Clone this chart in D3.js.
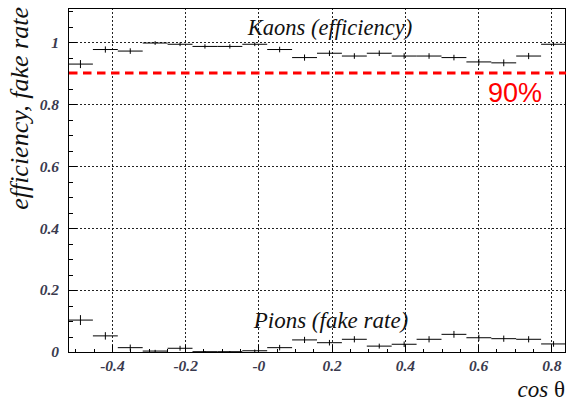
<!DOCTYPE html>
<html>
<head>
<meta charset="utf-8">
<script src="https://cdn.jsdelivr.net/npm/d3@7"></script>
<style>
  html, body { margin: 0; padding: 0; background: #fff; }
  svg { display: block; }
</style>
</head>
<body>
<svg id="chart" width="567" height="403"></svg>
<script>
// ---- data ----
const binCenters = [-0.486, -0.418, -0.35, -0.282, -0.214, -0.146, -0.078, -0.01, 0.058, 0.126,
                    0.194, 0.262, 0.33, 0.398, 0.466, 0.534, 0.602, 0.67, 0.738, 0.806];
const binHalfWidth = 0.034;
const kaonEff = [0.929, 0.976, 0.971, 0.997, 0.993, 0.986, 0.986, 0.993, 0.976, 0.950,
                 0.964, 0.955, 0.964, 0.955, 0.955, 0.950, 0.936, 0.933, 0.955, 0.993];
const kaonErr = [0.013, 0.010, 0.009, 0.006, 0.006, 0.007, 0.007, 0.006, 0.009, 0.010,
                 0.009, 0.009, 0.009, 0.009, 0.009, 0.009, 0.010, 0.011, 0.010, 0.006];
const pionFake = [0.103, 0.052, 0.014, 0.003, 0.012, 0.001, 0.001, 0.004, 0.014, 0.039,
                  0.030, 0.041, 0.019, 0.025, 0.041, 0.057, 0.046, 0.043, 0.041, 0.026];
const pionErr = [0.016, 0.012, 0.010, 0.004, 0.008, 0.002, 0.002, 0.004, 0.009, 0.010,
                 0.009, 0.010, 0.008, 0.009, 0.010, 0.011, 0.010, 0.010, 0.010, 0.009];
const xTickValues = [-0.4, -0.2, 0, 0.2, 0.4, 0.6, 0.8];
const xTickLabels = ["-0.4", "-0.2", "-0", "0.2", "0.4", "0.6", "0.8"];
const yTickValues = [0, 0.2, 0.4, 0.6, 0.8, 1];
const yTickLabels = ["0", "0.2", "0.4", "0.6", "0.8", "1"];
const threshold = 0.9;
const thresholdLabel = "90%";

// ---- layout ----
const svg = d3.select("#chart");
const L = 68, R = 566, T = 8, B = 352;
const x = d3.scaleLinear().domain([-0.52, 0.84]).range([L, R]);
const y = d3.scaleLinear().domain([0, 1.11]).range([B, T]);

const serif = "'Liberation Serif', 'DejaVu Serif', serif";

// gridlines
const grid = svg.append("g").attr("stroke", "#222").attr("stroke-width", 1)
  .attr("stroke-dasharray", "2,2").attr("shape-rendering", "crispEdges");
grid.selectAll("line.v").data(xTickValues).join("line")
  .attr("x1", d => Math.round(x(d)) + 0.5).attr("x2", d => Math.round(x(d)) + 0.5)
  .attr("y1", T).attr("y2", B);
grid.selectAll("line.h").data(yTickValues.filter(d => d > 0)).join("line")
  .attr("x1", L).attr("x2", R)
  .attr("y1", d => Math.round(y(d)) + 0.5).attr("y2", d => Math.round(y(d)) + 0.5);

// minor/major ticks (inward)
const xMinor = d3.range(-50, 85, 5).map(v => v / 100);
const yMinor = d3.range(0, 111, 5).map(v => v / 100);
const ticks = svg.append("g").attr("stroke", "#000").attr("stroke-width", 1).attr("shape-rendering", "crispEdges");
ticks.selectAll("line.xt").data(xMinor).join("line")
  .attr("x1", d => Math.round(x(d)) + 0.5).attr("x2", d => Math.round(x(d)) + 0.5)
  .attr("y1", B).attr("y2", d => B - (Math.abs(Math.round(d * 100)) % 20 === 0 ? 7 : 3.5));
ticks.selectAll("line.yt").data(yMinor).join("line")
  .attr("y1", d => Math.round(y(d)) + 0.5).attr("y2", d => Math.round(y(d)) + 0.5)
  .attr("x1", L).attr("x2", d => L + (Math.round(d * 100) % 20 === 0 ? 9 : 4.5));

// frame
svg.append("rect").attr("x", L + 0.5).attr("y", T + 0.5).attr("width", R - L - 1).attr("height", B - T)
  .attr("fill", "none").attr("stroke", "#000").attr("stroke-width", 1).attr("shape-rendering", "crispEdges");

// axes labels via d3 axes (no domain / ticks lines)
const xAxis = d3.axisBottom(x).tickValues(xTickValues)
  .tickFormat((d, i) => xTickLabels[i]).tickSize(0).tickPadding(8);
const gx = svg.append("g").attr("transform", `translate(0,${B})`).call(xAxis);
gx.select(".domain").remove();
gx.selectAll("text").attr("font-family", serif).attr("font-style", "italic").attr("font-weight", "bold")
  .attr("font-size", 15.5).attr("fill", "#3a3a4e").attr("dy", "0.71em");

const yAxis = d3.axisLeft(y).tickValues(yTickValues)
  .tickFormat((d, i) => yTickLabels[i]).tickSize(0).tickPadding(9);
const gy = svg.append("g").attr("transform", `translate(${L},0)`).call(yAxis);
gy.select(".domain").remove();
gy.selectAll("text").attr("font-family", serif).attr("font-style", "italic").attr("font-weight", "bold")
  .attr("font-size", 15.5).attr("fill", "#3a3a4e");

// threshold line
svg.append("line").attr("x1", L + 1).attr("x2", R)
  .attr("y1", y(threshold)).attr("y2", y(threshold))
  .attr("stroke", "#ff0000").attr("stroke-width", 3).attr("stroke-dasharray", "8.5,5.5");
svg.append("text").attr("x", 488).attr("y", 102)
  .attr("font-family", "'Liberation Sans', Arial, sans-serif").attr("font-size", 27)
  .attr("fill", "#ff0000").text(thresholdLabel);

// data markers
function drawSeries(vals, errs) {
  const g = svg.append("g").attr("stroke", "#000").attr("stroke-width", 1);
  binCenters.forEach((c, i) => {
    const yy = y(vals[i]);
    g.append("line").attr("x1", x(c - binHalfWidth)).attr("x2", x(c + binHalfWidth))
      .attr("y1", yy).attr("y2", yy);
    g.append("line").attr("x1", x(c)).attr("x2", x(c))
      .attr("y1", y(vals[i] + errs[i])).attr("y2", y(Math.max(0, vals[i] - errs[i])));
  });
}
drawSeries(kaonEff, kaonErr);
drawSeries(pionFake, pionErr);

// labels
svg.append("text").attr("x", 330).attr("y", 35).attr("text-anchor", "middle")
  .attr("font-family", serif).attr("font-style", "italic").attr("font-size", 22.5).attr("fill", "#111")
  .text("Kaons (efficiency)");
svg.append("text").attr("x", 331).attr("y", 328).attr("text-anchor", "middle")
  .attr("font-family", serif).attr("font-style", "italic").attr("font-size", 23).attr("fill", "#111")
  .text("Pions (fake rate)");

// axis titles
svg.append("text").attr("transform", "translate(28,7) rotate(-90)").attr("text-anchor", "end")
  .attr("font-family", serif).attr("font-style", "italic").attr("font-size", 26).attr("fill", "#111")
  .text("efficiency, fake rate");
const xt = svg.append("text").attr("x", 565).attr("y", 397).attr("text-anchor", "end")
  .attr("font-family", serif).attr("font-size", 23).attr("fill", "#111");
xt.append("tspan").attr("font-style", "italic").text("cos ");
xt.append("tspan").text("θ");
</script>
</body>
</html>
